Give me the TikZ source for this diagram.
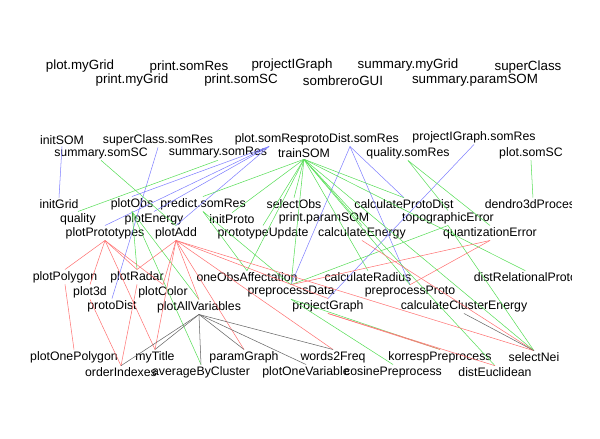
\documentclass[tikz,border=0pt]{standalone}
\usepackage{fontspec}
\setmainfont{Liberation Sans}
\usepackage{tikz}
\tikzset{
    fwfun/.style={inner sep=0.8pt, font=\fontsize{7}{8}\selectfont},
    fwlone/.style={inner sep=0.8pt, font=\fontsize{7.6}{8}\selectfont},
    callblue/.style={draw=blue!50, line width=0.3pt},
    callgreen/.style={draw=green!80!black!65, line width=0.3pt},
    callred/.style={draw=red!55, line width=0.3pt},
    callblack/.style={draw=black!60, line width=0.3pt},
}

\begin{document}
\begin{tikzpicture}[x=0.02cm, y=-0.02cm]
    \useasboundingbox (0,0) rectangle (600,439);
    \begin{scope}
    \clip (0,0) rectangle (572,439);
    % functions nobody calls
    \node[fwlone] (plotmygrid) at (80,66) {plot.myGrid};
    \node[fwlone] (printsomres) at (189,67) {print.somRes};
    \node[fwlone] (projectigraph) at (292,65) {projectIGraph};
    \node[fwlone] (summarymygrid) at (408,65) {summary.myGrid};
    \node[fwlone] (superclass) at (528,67) {superClass};
    \node[fwlone] (printmygrid) at (132,80) {print.myGrid};
    \node[fwlone] (printsomsc) at (241,80) {print.somSC};
    \node[fwlone] (sombrerogui) at (343,81) {sombreroGUI};
    \node[fwlone] (summaryparamsom) at (475,80) {summary.paramSOM};
    % top level
    \node[fwfun] (initsom) at (62,140) {initSOM};
    \node[fwfun] (superclasssomres) at (158,140) {superClass.somRes};
    \node[fwfun] (plotsomres) at (269,139) {plot.somRes};
    \node[fwfun] (protodistsomres) at (350,139) {protoDist.somRes};
    \node[fwfun] (projectigraphsomres) at (474,137) {projectIGraph.somRes};
    \node[fwfun] (summarysomsc) at (101,153) {summary.somSC};
    \node[fwfun] (summarysomres) at (218,153) {summary.somRes};
    \node[fwfun] (trainsom) at (304,153) {trainSOM};
    \node[fwfun] (qualitysomres) at (408,153) {quality.somRes};
    \node[fwfun] (plotsomsc) at (531,153) {plot.somSC};
    % second level
    \node[fwfun] (initgrid) at (59,204) {initGrid};
    \node[fwfun] (plotobs) at (132,204) {plotObs};
    \node[fwfun] (predictsomres) at (203,204) {predict.somRes};
    \node[fwfun] (selectobs) at (294,204) {selectObs};
    \node[fwfun] (calcprotodist) at (404,204) {calculateProtoDist};
    \node[fwfun, anchor=west] (dendro) at (483,204) {dendro3dProcess};
    \node[fwfun] (quality) at (78,219) {quality};
    \node[fwfun] (plotenergy) at (154,219) {plotEnergy};
    \node[fwfun] (initproto) at (232,219) {initProto};
    \node[fwfun] (printparamsom) at (324,218) {print.paramSOM};
    \node[fwfun] (topoerror) at (448,218) {topographicError};
    \node[fwfun] (plotproto) at (105,233) {plotPrototypes};
    \node[fwfun] (plotadd) at (176,233) {plotAdd};
    \node[fwfun] (protoupdate) at (263,233) {prototypeUpdate};
    \node[fwfun] (calcenergy) at (362,233) {calculateEnergy};
    \node[fwfun] (quanterror) at (490,233) {quantizationError};
    % third level
    \node[fwfun] (plotpolygon) at (65,277) {plotPolygon};
    \node[fwfun] (plotradar) at (137,277) {plotRadar};
    \node[fwfun] (oneobsaff) at (247,277) {oneObsAffectation};
    \node[fwfun] (calcradius) at (368,277) {calculateRadius};
    \node[fwfun, anchor=west] (distrelproto) at (472,277) {distRelationalProto};
    \node[fwfun] (plotthreed) at (90,292) {plot3d};
    \node[fwfun] (plotcolor) at (163,292) {plotColor};
    \node[fwfun] (preprocdata) at (291,292) {preprocessData};
    \node[fwfun] (preprocproto) at (410,292) {preprocessProto};
    \node[fwfun] (protodist) at (112,306) {protoDist};
    \node[fwfun] (plotallvar) at (199,307) {plotAllVariables};
    \node[fwfun] (projectgraph) at (328,306) {projectGraph};
    \node[fwfun] (calcclusterenergy) at (464,306) {calculateClusterEnergy};
    % bottom level
    \node[fwfun] (plotonepolygon) at (74,357) {plotOnePolygon};
    \node[fwfun] (mytitle) at (155,357) {myTitle};
    \node[fwfun] (paramgraph) at (244,357) {paramGraph};
    \node[fwfun] (words2freq) at (333,357) {words2Freq};
    \node[fwfun] (korresp) at (440,357) {korrespPreprocess};
    \node[fwfun] (selectnei) at (534,357) {selectNei};
    \node[fwfun] (orderindexes) at (121,372) {orderIndexes};
    \node[fwfun] (averagebycluster) at (201,372) {averageByCluster};
    \node[fwfun] (plotonevariable) at (306,372) {plotOneVariable};
    \node[fwfun] (cosinepreproc) at (393,372) {cosinePreprocess};
    \node[fwfun] (disteuclidean) at (495,372) {distEuclidean};

    % blue calls
    \draw[callblue] (initsom.south) -- (initgrid.north);
    \draw[callblue] (superclasssomres.south) -- (protodist.north);
    \draw[callblue] (plotsomres.south) -- (plotobs.north);
    \draw[callblue] (plotsomres.south) -- (plotproto.north);
    \draw[callblue] (plotsomres.south) -- (plotenergy.north);
    \draw[callblue] (plotsomres.south) -- (plotadd.north);
    \draw[callblue] (protodistsomres.south) -- (preprocdata.north);
    \draw[callblue] (protodistsomres.south) -- (calcprotodist.north);
    \draw[callblue] (protodistsomres.south) -- (preprocproto.north);
    \draw[callblue] (projectigraphsomres.south) -- (projectgraph.north);

    % green calls
    \draw[callgreen] (summarysomsc.south) -- (plotadd.north);
    \draw[callgreen] (summarysomres.south) -- (quality.north);
    \draw[callgreen] (trainsom.south) -- (predictsomres.north);
    \draw[callgreen] (trainsom.south) -- (initproto.north);
    \draw[callgreen] (trainsom.south) -- (selectobs.north);
    \draw[callgreen] (trainsom.south) -- (protoupdate.north);
    \draw[callgreen] (trainsom.south) -- (calcenergy.north);
    \draw[callgreen] (trainsom.south) -- (calcprotodist.north);
    \draw[callgreen] (trainsom.south) -- (oneobsaff.north);
    \draw[callgreen] (trainsom.south) -- (preprocdata.north);
    \draw[callgreen] (trainsom.south) -- (calcradius.north);
    \draw[callgreen] (trainsom.south) -- (preprocproto.north);
    \draw[callgreen] (trainsom.south) -- (distrelproto.north);
    \draw[callgreen] (trainsom.south) -- (selectnei.north);
    \draw[callgreen] (trainsom.south) -- (disteuclidean.north);
    \draw[callgreen] (qualitysomres.south) -- (topoerror.north);
    \draw[callgreen] (qualitysomres.south) -- (quanterror.north);
    \draw[callgreen] (plotsomsc.south) -- (dendro.north);
    \draw[callgreen] (plotobs.south) -- (plotradar.north);
    \draw[callgreen] (plotobs.south) -- (plotallvar.north);
    \draw[callgreen] (plotobs.south) -- (averagebycluster.north);
    \draw[callgreen] (predictsomres.south) -- (oneobsaff.north);
    \draw[callgreen] (predictsomres.south) -- (preprocdata.north);
    \draw[callgreen] (topoerror.south) -- (selectnei.north);
    \draw[callgreen] (topoerror.south) -- (preprocdata.north);
    \draw[callgreen] (preprocdata.south) -- (korresp.north);
    \draw[callgreen] (preprocdata.south) -- (cosinepreproc.north);

    % red calls
    \draw[callred] (plotproto.south) -- (plotpolygon.north);
    \draw[callred] (plotproto.south) -- (plotthreed.north);
    \draw[callred] (plotproto.south) -- (plotradar.north);
    \draw[callred] (plotproto.south) -- (plotcolor.north);
    \draw[callred] (plotproto.south) -- (mytitle.north);
    \draw[callred] (plotpolygon.south) -- (plotonepolygon.north);
    \draw[callred] (plotthreed.south) -- (orderindexes.north);
    \draw[callred] (plotradar.south) -- (orderindexes.north);
    \draw[callred] (plotadd.south) -- (plotradar.north);
    \draw[callred] (plotadd.south) -- (plotcolor.north);
    \draw[callred] (plotadd.south) -- (plotallvar.north);
    \draw[callred] (plotadd.south) -- (mytitle.north);
    \draw[callred] (plotadd.south) -- (paramgraph.north);
    \draw[callred] (plotadd.south) -- (projectgraph.north);
    \draw[callred] (plotadd.south) -- (words2freq.north);
    \draw[callred] (plotadd.south) -- (selectnei.north);
    \draw[callred] (calcenergy.south) -- (selectnei.north);
    \draw[callred] (quanterror.south) -- (preprocdata.north);
    \draw[callred] (quanterror.south) -- (preprocproto.north);
    \draw[callred] (projectgraph.south) -- (korresp.north);
    \draw[callred] (projectgraph.south) -- (disteuclidean.north);

    % black calls
    \draw[callblack] (plotallvar.south) -- (orderindexes.north);
    \draw[callblack] (plotallvar.south) -- (mytitle.north);
    \draw[callblack] (plotallvar.south) -- (averagebycluster.north);
    \draw[callblack] (plotallvar.south) -- (paramgraph.north);
    \draw[callblack] (plotallvar.south) -- (plotonevariable.north);
    \draw[callblack] (plotallvar.south) -- (words2freq.north);
    \draw[callblack] (calcclusterenergy.south) -- (selectnei.north);
    \end{scope}
\end{tikzpicture}
\end{document}
